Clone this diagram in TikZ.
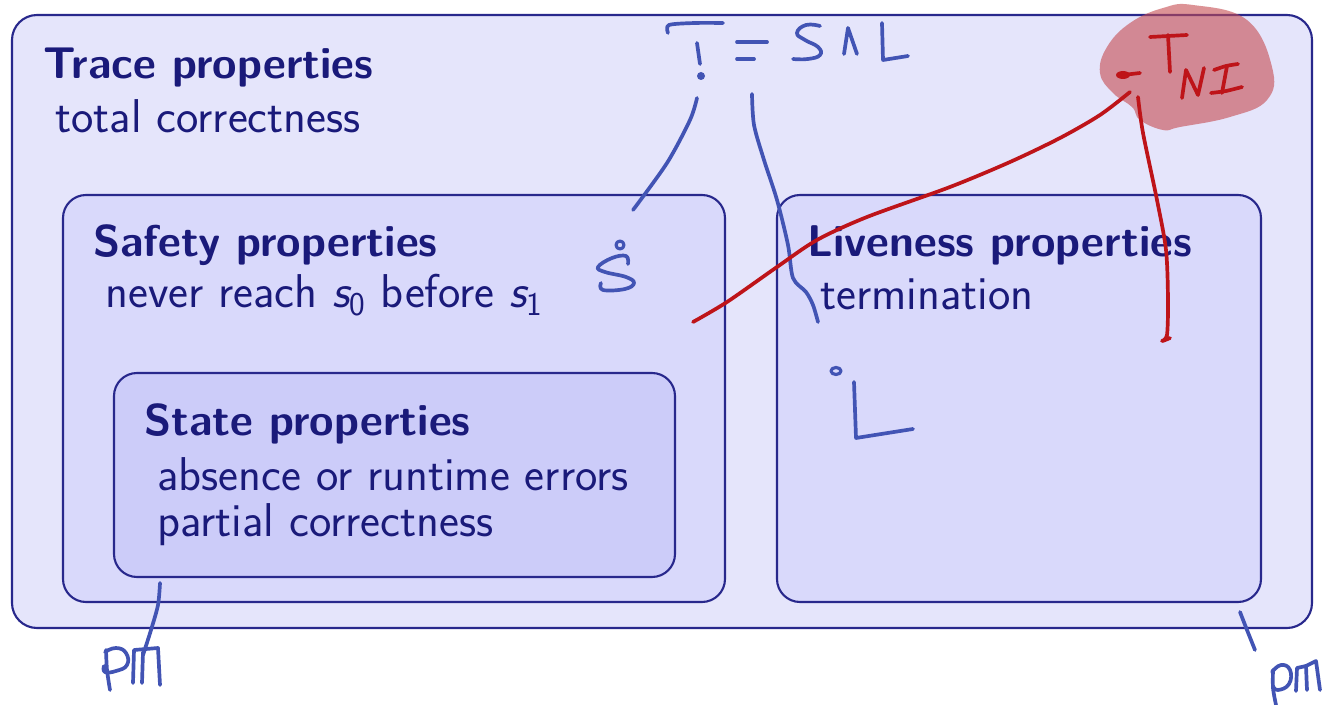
\documentclass[tikz,border=0pt]{standalone}
\usetikzlibrary{fit}
\definecolor{navy}{RGB}{26,26,122}
\definecolor{bord}{RGB}{40,40,140}
\definecolor{fillA}{RGB}{229,229,251}
\definecolor{fillB}{RGB}{217,217,251}
\definecolor{fillC}{RGB}{204,204,249}
\definecolor{pen}{RGB}{66,84,180}
\definecolor{rpen}{RGB}{190,20,25}
\definecolor{rblob}{RGB}{198,75,80}
\tikzset{
  box/.style={draw=bord, line width=1.2pt, rounded corners=0.46cm, inner sep=0pt},
  title/.style={anchor=base west, inner sep=0pt, text=navy, font=\fontsize{25.3}{30}\selectfont\sffamily\bfseries},
  body/.style={anchor=base west, inner sep=0pt, text=navy, font=\fontsize{27}{32}\selectfont\sffamily},
  ink/.style={draw=pen, line width=2.1pt, line cap=round, line join=round},
  rink/.style={draw=rpen, line width=2.1pt, line cap=round, line join=round},
}
\begin{document}
\begin{tikzpicture}[x=0.02cm,y=-0.02cm]
\useasboundingbox (0,0) rectangle (1323,705);
\fill[white] (0,0) rectangle (1323,705);
% boxes
\node[box, fill=fillA, rounded corners=0.5cm, fit={(12,15)(1312,628)}] (trace) {};
\node[box, fill=fillB, fit={(63,195)(725,602)}] (safety) {};
\node[box, fill=fillC, fit={(114,373)(675,577)}] (state) {};
\node[box, fill=fillB, fit={(777,195)(1261,602)}] (live) {};
% texts
\node[title] (t1) at (43,79) {Trace properties};
\node[body] (t2) at (55,133) {total correctness};
\node[title] (s1) at (93,257) {Safety properties};
\node[body] (s2) at (105,308) {never reach {\itshape s}\textsubscript{0} before {\itshape s}\textsubscript{1}};
\node[title] (p1) at (144,436) {State properties};
\node[body] (p2) at (157,491) {absence or runtime errors};
\node[body] (p3) at (157,537) {partial correctness};
\node[title] (l1) at (807,257) {Liveness properties};
\node[body] (l2) at (820,310) {termination};
% red blob
\fill[rblob, opacity=0.6] plot[smooth cycle, tension=0.7] coordinates {
 (1193,5) (1247,20) (1272,67) (1267,100) (1230,117) (1180,127) (1163,130)
 (1140,120) (1132,107) (1113,93) (1100,73) (1107,47) (1130,23) (1163,8)};
% handwriting: T = S ^ L
\draw[ink] plot[smooth] coordinates {(668,33) (669,25) (695,23) (723,23)};
\draw[ink] (697,43) -- (700,64);
\fill[pen] (701,76) circle (4);
\draw[ink] (737,42) -- (767,42);
\draw[ink] (737,59) -- (754,59);
\draw[ink] plot[smooth, tension=0.8] coordinates {(820,26) (806,25) (797,33) (805,40) (818,47) (820,55) (808,59) (793,59)};
\draw[ink] (844,54) -- (848,28) -- (857,54);
\draw[ink] (882,23) -- (883,60) -- (908,56);
% connectors from T
\coordinate (tdot) at (697,98);
\coordinate (sdot) at (633,210);
\draw[ink] plot[smooth] coordinates {(tdot) (690,120) (667,163) (sdot)};
\coordinate (eq) at (752,94);
\coordinate (term) at (818,322);
\draw[ink] plot[smooth] coordinates {(eq) (754,125) (764,160) (777,200) (788,245) (793,278) (806,292) (813,305) (term)};
% S dot
\draw[ink, line width=1.8pt] (620,245) circle (4);
\draw[ink] plot[smooth, tension=0.7] coordinates {(628,264) (626,256) (612,258) (598,267) (605,272) (626,277) (634,283) (625,289) (603,290) (601,283)};
% L dot
\draw[ink, line width=1.8pt] (836,371) ellipse (5 and 3.5);
\draw[ink] (854,382) -- (856,438) -- (913,429);
% pm left
\coordinate (pmL) at (143,655);
\draw[ink] plot[smooth] coordinates {(160,583) (158,605) (151,630) (pmL)};
\draw[ink] plot[smooth] coordinates {(106,650) (107,670) (110,690)};
\draw[ink] plot[smooth, tension=0.8] coordinates {(105,652) (116,648) (126,653) (127,665) (116,671) (105,672) (104,666)};
\draw[ink] (133,683) -- (134,650) -- (158,648) -- (160,685);
\draw[ink] (143,652) -- (142,683);
% pm right
\coordinate (pmR) at (1255,650);
\draw[ink] plot[smooth] coordinates {(1240,612) (1247,630) (pmR)};
\draw[ink] plot[smooth] coordinates {(1273,670) (1273,688) (1276,705)};
\draw[ink] plot[smooth, tension=0.8] coordinates {(1272,672) (1281,665) (1290,670) (1289,684) (1278,690) (1273,686)};
\draw[ink] (1296,691) -- (1297,668) -- (1306,666) -- (1307,690);
\draw[ink] (1306,666) -- (1316,661) -- (1320,690);
% red annotations
\draw[rink] (1150,37) -- (1187,35);
\draw[rink] (1168,35) -- (1170,72);
\draw[rink] (1182,98) -- (1186,70) -- (1198,95) -- (1204,68);
\draw[rink] plot[smooth] coordinates {(1214,70) (1226,66) (1238,64)};
\draw[rink] (1227,66) -- (1222,93);
\draw[rink] plot[smooth] coordinates {(1211,93) (1226,91) (1242,87)};
\fill[rpen] (1123,75) ellipse (7 and 4);
\draw[rink] (1123,75) -- (1140,73);
\coordinate (tni) at (1130,92);
\coordinate (safe) at (693,322);
\draw[rink] plot[smooth] coordinates {(safe) (727,302) (777,267) (817,240) (867,217) (950,187) (1010,162) (1060,138) (1100,115) (tni)};
\coordinate (tni2) at (1138,97);
\coordinate (live2) at (1170,338);
\draw[rink] plot[smooth] coordinates {(tni2) (1143,133) (1157,200) (1166,250) (1168,300) (1167,335) (1162,341) (live2)};
\end{tikzpicture}
\end{document}
